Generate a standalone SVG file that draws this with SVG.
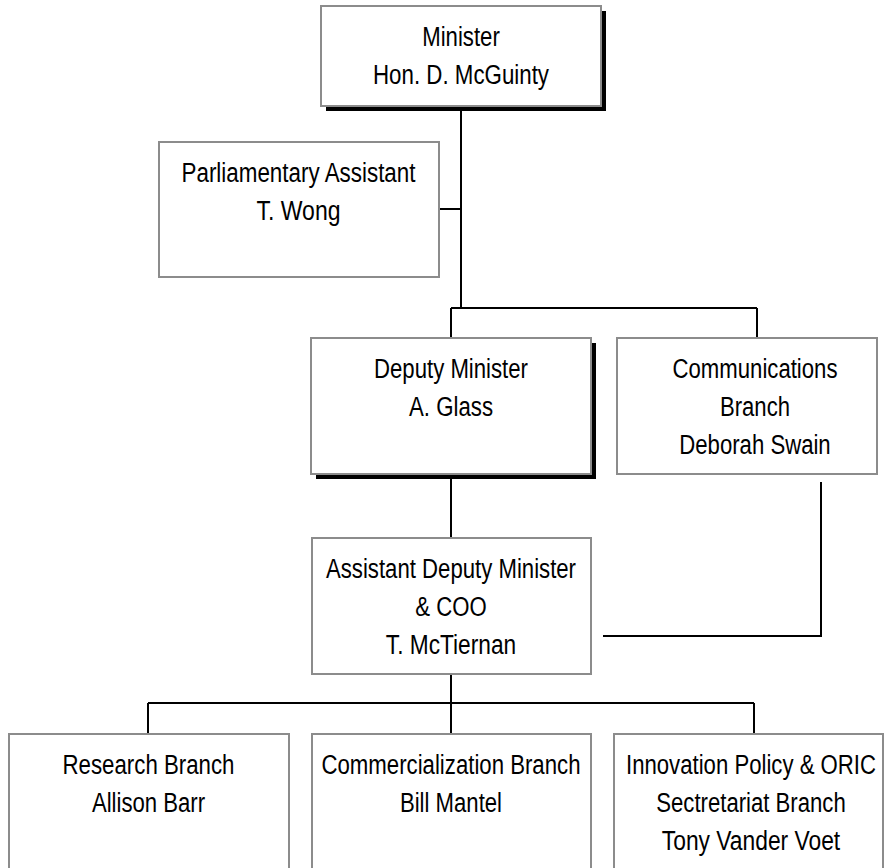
<svg xmlns="http://www.w3.org/2000/svg" width="885" height="868" viewBox="0 0 885 868">
<style>
.box{fill:#fff;stroke:#8c8c8c;stroke-width:2}
.shadow{fill:#000}
.t{font-family:"Liberation Sans Narrow","Liberation Sans",Arial,sans-serif;font-size:27px;fill:#000;text-anchor:middle}
.c{fill:none;stroke:#000;stroke-width:2}
</style>
<rect width="885" height="868" fill="#fff"/>
<g id="connectors">
<path class="c" d="M461 111V308M440 209H461M451 308H757M451 308V337M757 308V337"/>
<path class="c" d="M451 479V537"/>
<path class="c" d="M821 482V636H603"/>
<path class="c" d="M451 674V703M148 703H754M148 703V733M451 703V733M754 703V733"/>
</g>
<g id="minister">
<rect class="shadow" x="326" y="11" width="280" height="100"/>
<rect class="box" x="321" y="6" width="280" height="100"/>
<text class="t" x="461" y="46" textLength="77.5" lengthAdjust="spacingAndGlyphs">Minister</text>
<text class="t" x="461" y="84" textLength="176" lengthAdjust="spacingAndGlyphs">Hon. D. McGuinty</text>
</g>
<g id="parliamentary">
<rect class="box" x="159" y="142" width="280" height="135"/>
<text class="t" x="298.5" y="182" textLength="234" lengthAdjust="spacingAndGlyphs">Parliamentary Assistant</text>
<text class="t" x="298.5" y="220" textLength="84" lengthAdjust="spacingAndGlyphs">T. Wong</text>
</g>
<g id="deputy">
<rect class="shadow" x="316" y="343" width="280" height="136"/>
<rect class="box" x="311" y="338" width="280" height="136"/>
<text class="t" x="451" y="378" textLength="154" lengthAdjust="spacingAndGlyphs">Deputy Minister</text>
<text class="t" x="451" y="416" textLength="84" lengthAdjust="spacingAndGlyphs">A. Glass</text>
</g>
<g id="communications">
<rect class="box" x="617" y="338" width="260" height="136"/>
<text class="t" x="755" y="378" textLength="165" lengthAdjust="spacingAndGlyphs">Communications</text>
<text class="t" x="755" y="416" textLength="70" lengthAdjust="spacingAndGlyphs">Branch</text>
<text class="t" x="755" y="454" textLength="151.4" lengthAdjust="spacingAndGlyphs">Deborah Swain</text>
</g>
<g id="adm">
<rect class="box" x="312" y="538" width="279" height="136"/>
<text class="t" x="451" y="578" textLength="250" lengthAdjust="spacingAndGlyphs">Assistant Deputy Minister</text>
<text class="t" x="451" y="616" textLength="71.4" lengthAdjust="spacingAndGlyphs">&amp; COO</text>
<text class="t" x="451" y="654" textLength="130.4" lengthAdjust="spacingAndGlyphs">T. McTiernan</text>
</g>
<g id="research">
<rect class="box" x="9" y="734" width="280" height="150"/>
<text class="t" x="148.5" y="774" textLength="172" lengthAdjust="spacingAndGlyphs">Research Branch</text>
<text class="t" x="148.5" y="812" textLength="113.2" lengthAdjust="spacingAndGlyphs">Allison Barr</text>
</g>
<g id="commercialization">
<rect class="box" x="312" y="734" width="279" height="150"/>
<text class="t" x="451" y="774" textLength="259" lengthAdjust="spacingAndGlyphs">Commercialization Branch</text>
<text class="t" x="451" y="812" textLength="102.1" lengthAdjust="spacingAndGlyphs">Bill Mantel</text>
</g>
<g id="innovation">
<rect class="box" x="614" y="734" width="269" height="150"/>
<text class="t" x="751" y="774" textLength="250" lengthAdjust="spacingAndGlyphs">Innovation Policy &amp; ORIC</text>
<text class="t" x="751" y="812" textLength="189.5" lengthAdjust="spacingAndGlyphs">Sectretariat Branch</text>
<text class="t" x="751" y="850" textLength="178.4" lengthAdjust="spacingAndGlyphs">Tony Vander Voet</text>
</g>
</svg>
